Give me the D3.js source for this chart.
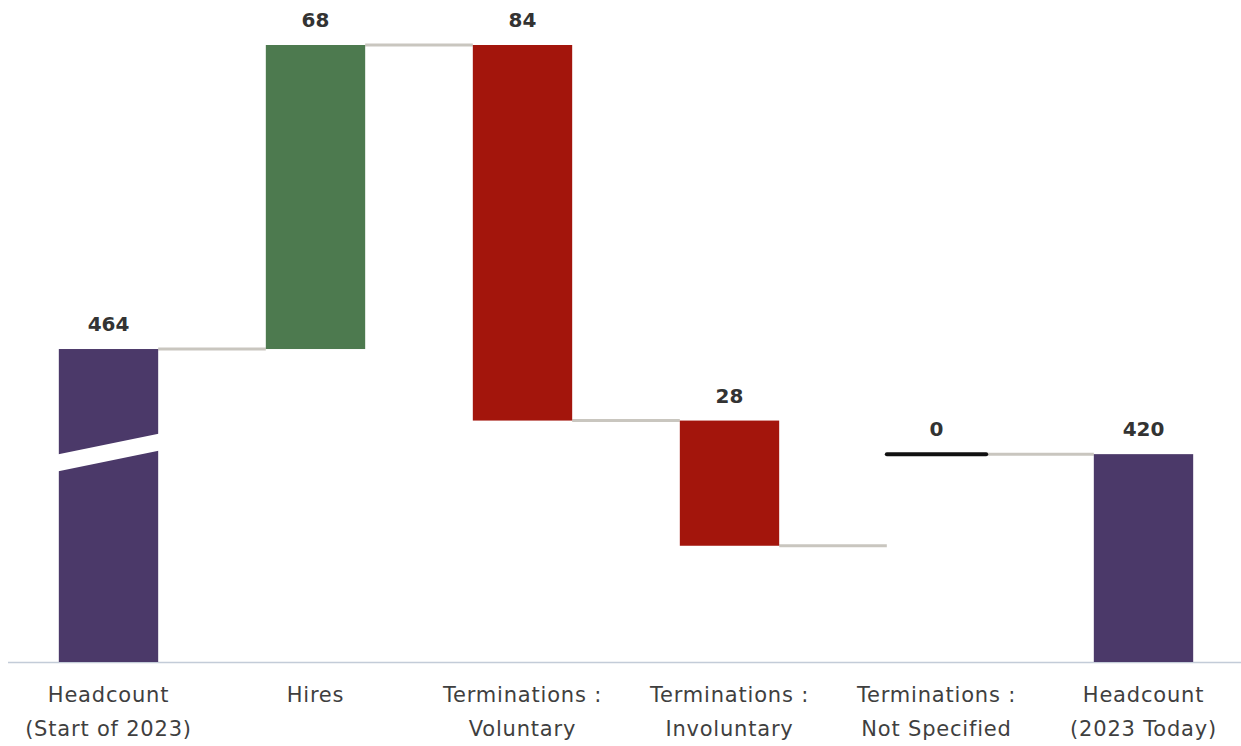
<!DOCTYPE html>
<html>
<head>
<meta charset="utf-8">
<script src="https://cdn.jsdelivr.net/npm/d3@7"></script>
<style>
  html, body { margin: 0; padding: 0; background: #ffffff; }
  svg { display: block; }
</style>
</head>
<body>
<svg id="chart" width="1241" height="746"></svg>
<script>
// Headcount bridge: opening total, movements, closing total
const categories = [
  ["Headcount", "(Start of 2023)"],
  ["Hires"],
  ["Terminations :", "Voluntary"],
  ["Terminations :", "Involuntary"],
  ["Terminations :", "Not Specified"],
  ["Headcount", "(2023 Today)"]
];
const stepTypes = ["total", "increase", "decrease", "decrease", "decrease", "total"];
const stepValues = [464, 68, 84, 28, 0, 420];

// value axis is broken: movements use a zoomed domain, totals a compressed one
const movementDomain = [394, 532];
const totalDomain = [333, 464];

const colors = {
  total: "#4b3969",
  increase: "#4d7a4f",
  decrease: "#a3150c",
  zero: "#111111",
  connector: "#c9c6bf",
  axis: "#c3ccd8",
  value: "#333333",
  label: "#3f3f3f"
};

const W = 1241, H = 746;
const plotTop = 45, plotBottom = 662;

const svg = d3.select("#chart");

const x = d3.scaleBand()
  .domain(d3.range(categories.length))
  .range([5, 1247])
  .paddingInner(0.52)
  .paddingOuter(0.26);

const yMove = d3.scaleLinear().domain(movementDomain).range([plotBottom, plotTop]);
const yTotal = d3.scaleLinear().domain(totalDomain).range([plotBottom, yMove(totalDomain[1])]);

// running levels
let level = 0;
const steps = stepValues.map((v, i) => {
  const t = stepTypes[i];
  let start, end;
  if (t === "total") { start = 0; end = v; level = v; }
  else if (t === "increase") { start = level; end = level + v; level = end; }
  else { start = level; end = level - v; level = end; }
  return { i, type: t, value: v, start, end };
});

// movements after the last non-zero change sit on the closing total's scale
const lastMove = d3.max(steps.filter(s => s.type !== "total" && s.value !== 0), s => s.i);
steps.forEach(s => {
  s.scale = (s.type === "total" || s.i > lastMove) ? yTotal : yMove;
});

// axis baseline
svg.append("line")
  .attr("x1", 8).attr("x2", W)
  .attr("y1", plotBottom + 0.5).attr("y2", plotBottom + 0.5)
  .attr("stroke", colors.axis).attr("stroke-width", 1.5);

// connectors between neighbouring steps
const connectorG = svg.append("g");
for (let k = 0; k < steps.length - 1; k++) {
  const a = steps[k], b = steps[k + 1];
  const lvl = a.type === "total" ? a.value : a.end;
  const yy = (b.scale === yTotal && a.scale === yTotal) ? yTotal(lvl) : yMove(lvl);
  connectorG.append("line")
    .attr("x1", x(a.i) + x.bandwidth())
    .attr("x2", x(b.i))
    .attr("y1", yy).attr("y2", yy)
    .attr("stroke", colors.connector)
    .attr("stroke-width", 3);
}

// bars
const barG = svg.append("g");
steps.forEach(s => {
  if (s.type !== "total" && s.value === 0) {
    const yy = s.scale(s.start);
    barG.append("line")
      .attr("x1", x(s.i)).attr("x2", x(s.i) + x.bandwidth())
      .attr("y1", yy).attr("y2", yy)
      .attr("stroke", colors.zero).attr("stroke-width", 4)
      .attr("stroke-linecap", "round");
    return;
  }
  let yTop, yBot;
  if (s.type === "total") {
    yTop = s.scale(s.value);
    yBot = plotBottom;
  } else {
    yTop = s.scale(Math.max(s.start, s.end));
    yBot = s.scale(Math.min(s.start, s.end));
  }
  barG.append("rect")
    .attr("x", x(s.i))
    .attr("y", yTop)
    .attr("width", x.bandwidth())
    .attr("height", yBot - yTop)
    .attr("fill", colors[s.type]);
});

// break mark across the opening total
const b0 = x(0), bw = x.bandwidth();
barG.append("polygon")
  .attr("points", [
    [b0 - 4, 455], [b0 + bw + 4, 433],
    [b0 + bw + 4, 450], [b0 - 4, 472]
  ].map(p => p.join(",")).join(" "))
  .attr("fill", "#ffffff");

// value labels
svg.append("g").selectAll("text")
  .data(steps)
  .join("text")
  .attr("x", s => x(s.i) + bw / 2)
  .attr("y", s => {
    const top = s.type === "total" ? s.scale(s.value)
      : s.scale(Math.max(s.start, s.end));
    return top - 18;
  })
  .attr("text-anchor", "middle")
  .attr("font-family", "DejaVu Sans, Verdana, sans-serif")
  .attr("font-weight", "bold")
  .attr("font-size", 20)
  .attr("fill", colors.value)
  .text(s => s.value);

// category labels
const labelG = svg.append("g");
categories.forEach((lines, i) => {
  const t = labelG.append("text")
    .attr("x", x(i) + bw / 2)
    .attr("y", 702)
    .attr("text-anchor", "middle")
    .attr("font-family", "DejaVu Sans, Verdana, sans-serif")
    .attr("font-size", 21)
    .attr("letter-spacing", 0.8)
    .attr("fill", colors.label);
  lines.forEach((ln, j) => {
    t.append("tspan")
      .attr("x", x(i) + bw / 2)
      .attr("dy", j === 0 ? 0 : 34)
      .text(ln);
  });
});
</script>
</body>
</html>
